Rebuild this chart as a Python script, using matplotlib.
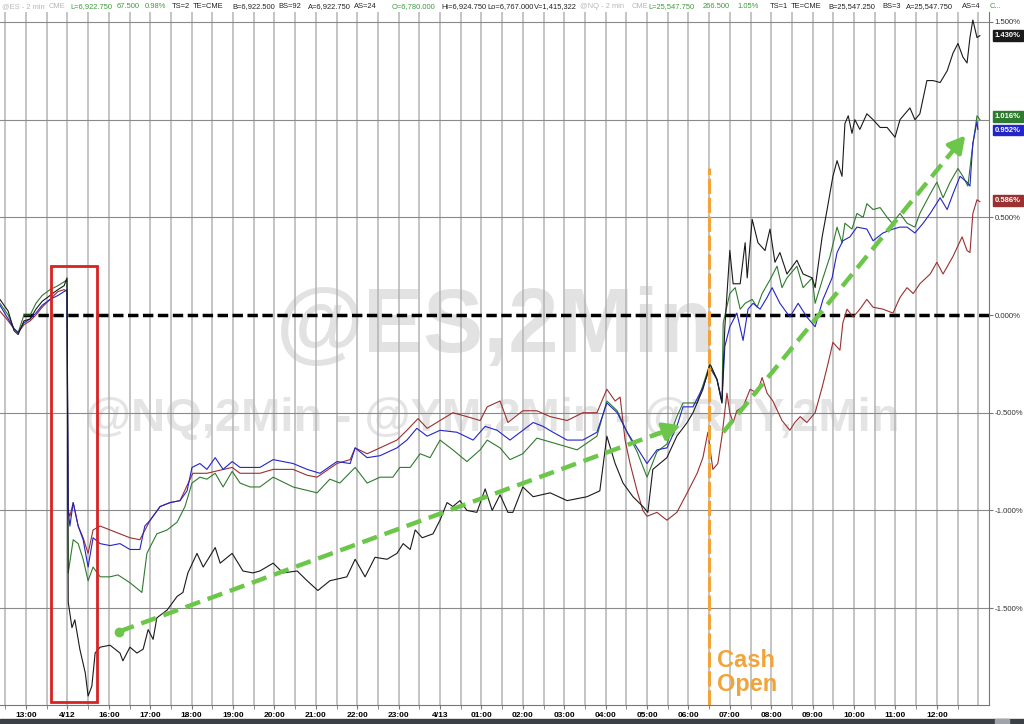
import matplotlib
matplotlib.use("Agg")
import matplotlib.pyplot as plt
from matplotlib.patches import Rectangle
import matplotlib.transforms as mtransforms

plt.rcParams['font.family'] = ['Liberation Sans', 'DejaVu Sans']

# ------------------------------------------------------------
# data (hours on session axis: 0 = 13:00 Fri, 1 = 4/12 15:00, 2 = 16:00 ...)
# values in % change
# ------------------------------------------------------------
tick_labels = ["13:00", "4/12", "16:00", "17:00", "18:00", "19:00", "20:00",
               "21:00", "22:00", "23:00", "4/13", "01:00", "02:00", "03:00",
               "04:00", "05:00", "06:00", "07:00", "08:00", "09:00", "10:00",
               "11:00", "12:00"]
ytick_vals = [-1.5, -1.0, -0.5, 0.0, 0.5, 1.5]

pre_t = [-0.63, -0.43, -0.29, -0.19, -0.05, 0.10, 0.24, 0.39, 0.58, 0.77, 0.92, 0.99]

# black line
t_black = pre_t + [
    1.02, 1.11, 1.18, 1.30, 1.43, 1.50, 1.59, 1.67, 1.79, 2.03, 2.27, 2.34, 2.51,
    2.68, 2.83, 2.95, 3.07, 3.16, 3.41, 3.65, 3.79, 3.91, 4.13, 4.28, 4.57, 4.69,
    4.98, 5.24, 5.48, 5.65, 5.97, 6.21, 6.55, 6.79, 7.05, 7.34, 7.75, 7.95, 8.19,
    8.43, 8.72, 8.96, 9.11, 9.28, 9.40, 9.57, 9.83, 10.00, 10.17, 10.31, 10.48,
    10.65, 10.89, 11.09, 11.26, 11.45, 11.64, 11.76, 12.00, 12.25, 12.66, 13.07,
    13.55, 13.86, 14.03, 14.23, 14.42, 14.66, 14.90, 15.02, 15.14, 15.31, 15.48,
    15.72, 15.97, 16.11, 16.35, 16.52, 16.69, 16.81, 16.88, 17.00, 17.08, 17.25,
    17.37, 17.42, 17.54, 17.68, 17.85, 17.97, 18.09, 18.21, 18.38, 18.62, 18.77,
    18.99, 19.06, 19.23, 19.35, 19.49, 19.59, 19.71, 19.78, 19.86, 19.95, 20.02,
    20.14, 20.31, 20.46, 20.63, 20.80, 20.99, 21.11, 21.35, 21.47, 21.59, 21.76,
    21.91, 22.08, 22.25, 22.39, 22.51, 22.63, 22.73, 22.80, 22.87, 22.97, 23.04]
v_black = [0.08, 0.02, -0.08, -0.10, -0.03, -0.02, 0.03, 0.07, 0.10, 0.13, 0.15, 0.19,
    -1.47, -1.60, -1.56, -1.71, -1.83, -1.95, -1.90, -1.73, -1.70, -1.69, -1.73, -1.77, -1.70,
    -1.73, -1.71, -1.61, -1.66, -1.55, -1.51, -1.44, -1.42, -1.32, -1.22, -1.29, -1.19, -1.27,
    -1.22, -1.31, -1.32, -1.31, -1.27, -1.32, -1.31, -1.36, -1.41, -1.36, -1.34, -1.25, -1.34,
    -1.24, -1.25, -1.22, -1.17, -1.20, -1.10, -1.14, -1.12, -1.05, -0.96, -0.98, -0.95,
    -1.00, -1.01, -0.89, -1.00, -0.92, -1.01, -1.01, -0.88, -0.93, -0.91, -0.95,
    -0.93, -0.90, -0.62, -0.76, -0.86, -0.93, -0.98, -1.01, -0.79, -0.76, -0.73,
    -0.62, -0.55, -0.50, -0.38, -0.25, -0.33, -0.45, -0.06, 0.33, 0.16, 0.16,
    0.37, 0.19, 0.49, 0.37, 0.33, 0.44, 0.27, 0.32, 0.21, 0.28, 0.21,
    0.19, 0.14, 0.40, 0.54, 0.71, 0.79, 0.71, 0.98, 1.02, 0.93, 1.00,
    0.95, 1.03, 1.00, 0.96, 0.96, 0.91, 1.00, 1.06, 1.00, 1.03, 1.20,
    1.20, 1.19, 1.25, 1.34, 1.39, 1.32, 1.29, 1.42, 1.51, 1.42, 1.43]

# blue line
t_blue = pre_t + [
    1.02, 1.06, 1.14, 1.26, 1.38, 1.50, 1.62, 1.79, 2.03, 2.27, 2.51, 2.75, 2.87,
    3.00, 3.24, 3.48, 3.72, 3.89, 4.01, 4.20, 4.37, 4.57, 4.76, 4.98, 5.17, 5.41,
    5.65, 5.97, 6.45, 6.79, 7.10, 7.51, 7.83, 7.95, 8.24, 8.55, 8.96, 9.20, 9.44,
    9.69, 10.00, 10.41, 10.80, 11.09, 11.38, 11.69, 12.00, 12.25, 12.49, 12.73,
    13.07, 13.45, 13.79, 14.03, 14.28, 14.52, 14.76, 15.00, 15.24, 15.48, 15.72,
    15.87, 16.11, 16.35, 16.52, 16.69, 16.81, 16.88, 17.00, 17.17, 17.32, 17.44,
    17.56, 17.73, 17.90, 18.02, 18.21, 18.45, 18.65, 18.86, 19.06, 19.25, 19.47,
    19.59, 19.73, 19.90, 20.07, 20.31, 20.46, 20.70, 20.94, 21.11, 21.28, 21.47,
    21.67, 21.84, 22.08, 22.25, 22.39, 22.56, 22.73, 22.80, 22.87, 22.97, 22.99]
v_blue = [0.05, -0.02, -0.07, -0.09, -0.04, -0.02, 0.01, 0.05, 0.08, 0.10, 0.12, 0.13,
    -1.00, -1.08, -0.96, -1.08, -1.15, -1.29, -1.14, -1.17, -1.18, -1.17, -1.20, -1.20, -1.08,
    -1.05, -0.98, -0.96, -0.95, -0.90, -0.78, -0.76, -0.79, -0.73, -0.79, -0.75, -0.78, -0.78,
    -0.78, -0.74, -0.76, -0.79, -0.81, -0.75, -0.76, -0.68, -0.73, -0.72, -0.68, -0.64, -0.58,
    -0.62, -0.59, -0.60, -0.64, -0.57, -0.59, -0.64, -0.59, -0.55, -0.57, -0.60,
    -0.64, -0.64, -0.60, -0.45, -0.50, -0.60, -0.68, -0.76, -0.69, -0.68, -0.57,
    -0.47, -0.47, -0.37, -0.27, -0.33, -0.44, -0.16, -0.06, 0.01, -0.13, 0.03,
    0.06, 0.03, 0.09, 0.14, 0.06, -0.01, 0.06, -0.01, -0.06, 0.08, 0.19,
    0.32, 0.38, 0.40, 0.45, 0.44, 0.38, 0.42, 0.44, 0.45, 0.45, 0.42,
    0.47, 0.52, 0.60, 0.54, 0.62, 0.71, 0.68, 0.66, 0.88, 0.99, 0.95]

# green line
t_green = pre_t + [
    1.02, 1.14, 1.26, 1.38, 1.50, 1.62, 1.79, 2.03, 2.22, 2.51, 2.80, 2.92, 3.16,
    3.41, 3.65, 3.84, 4.01, 4.20, 4.37, 4.57, 4.76, 4.98, 5.17, 5.41, 5.65, 5.97,
    6.45, 7.03, 7.34, 7.58, 7.95, 8.24, 8.55, 8.86, 9.03, 9.28, 9.52, 9.76, 10.00,
    10.31, 10.65, 10.97, 11.14, 11.45, 11.69, 12.00, 12.34, 12.83, 13.31, 13.79,
    14.03, 14.28, 14.52, 14.76, 15.00, 15.24, 15.48, 15.72, 15.87, 16.21, 16.52,
    16.69, 16.81, 16.84, 17.00, 17.13, 17.25, 17.37, 17.54, 17.66, 17.78, 17.97,
    18.14, 18.26, 18.38, 18.62, 18.77, 18.99, 19.06, 19.25, 19.42, 19.59, 19.71,
    19.78, 19.95, 20.07, 20.22, 20.31, 20.46, 20.63, 20.80, 20.92, 21.11, 21.28,
    21.47, 21.59, 21.84, 22.00, 22.15, 22.32, 22.51, 22.63, 22.75, 22.85, 22.97, 23.04]
v_green = [0.06, 0.00, -0.07, -0.09, 0.00, 0.00, 0.06, 0.10, 0.13, 0.15, 0.17, 0.18,
    -1.32, -1.15, -1.17, -1.25, -1.36, -1.29, -1.34, -1.34, -1.33, -1.37, -1.42, -1.22, -1.12,
    -1.10, -1.06, -0.98, -0.86, -0.83, -0.84, -0.81, -0.88, -0.80, -0.86, -0.88, -0.88, -0.83,
    -0.88, -0.91, -0.84, -0.86, -0.78, -0.86, -0.83, -0.83, -0.78, -0.78, -0.71, -0.73, -0.64,
    -0.69, -0.75, -0.69, -0.64, -0.68, -0.74, -0.71, -0.63, -0.66, -0.69, -0.62,
    -0.44, -0.49, -0.60, -0.70, -0.83, -0.70, -0.66, -0.52, -0.45, -0.45, -0.25,
    -0.33, -0.45, -0.04, 0.11, 0.14, 0.03, 0.06, 0.08, 0.04, 0.11, 0.18,
    0.25, 0.14, 0.19, 0.25, 0.14, 0.19, 0.06, 0.19, 0.30, 0.45, 0.37,
    0.47, 0.44, 0.52, 0.50, 0.57, 0.54, 0.55, 0.50, 0.47, 0.52, 0.47,
    0.45, 0.52, 0.62, 0.68, 0.60, 0.68, 0.75, 0.71, 0.66, 0.84, 1.02, 1.00]

# brown line
t_brown = pre_t + [
    1.02, 1.06, 1.14, 1.26, 1.38, 1.50, 1.62, 1.79, 2.03, 2.27, 2.51, 2.75, 3.00,
    3.24, 3.48, 3.72, 4.03, 4.37, 4.57, 4.98, 5.17, 5.65, 5.97, 6.45, 6.79, 7.03,
    7.51, 7.83, 7.95, 8.24, 8.55, 8.96, 9.20, 9.47, 9.69, 10.00, 10.31, 10.65,
    10.97, 11.14, 11.45, 11.64, 12.00, 12.34, 12.66, 13.07, 13.45, 13.79, 14.03,
    14.23, 14.35, 14.47, 14.59, 14.76, 14.90, 15.00, 15.24, 15.48, 15.72, 15.97,
    16.21, 16.35, 16.47, 16.59, 16.71, 16.81, 16.93, 17.00, 17.08, 17.17, 17.32,
    17.49, 17.66, 17.78, 17.90, 18.04, 18.26, 18.45, 18.57, 18.70, 18.86, 19.06,
    19.23, 19.37, 19.49, 19.66, 19.73, 19.83, 19.98, 20.14, 20.31, 20.46, 20.70,
    20.94, 21.11, 21.28, 21.43, 21.59, 21.84, 22.00, 22.15, 22.39, 22.61, 22.73,
    22.80, 22.87, 22.97, 23.04]
v_brown = [0.02, -0.03, -0.07, -0.09, -0.05, -0.03, 0.00, 0.04, 0.08, 0.12, 0.13, 0.12,
    -1.00, -1.03, -0.96, -1.08, -1.14, -1.22, -1.10, -1.08, -1.10, -1.12, -1.14, -1.15, -1.05,
    -0.98, -0.96, -0.95, -0.81, -0.81, -0.80, -0.78, -0.81, -0.81, -0.79, -0.79, -0.82, -0.83,
    -0.76, -0.74, -0.68, -0.71, -0.68, -0.64, -0.59, -0.53, -0.58, -0.54, -0.50, -0.52,
    -0.54, -0.47, -0.44, -0.55, -0.49, -0.49, -0.52, -0.54, -0.50, -0.50, -0.38,
    -0.44, -0.42, -0.64, -0.76, -0.90, -1.00, -1.03, -1.01, -1.05, -1.01, -0.91,
    -0.81, -0.73, -0.60, -0.79, -0.76, -0.62, -0.40, -0.50, -0.55, -0.49, -0.47,
    -0.38, -0.40, -0.32, -0.40, -0.44, -0.54, -0.59, -0.55, -0.52, -0.55, -0.50,
    -0.37, -0.25, -0.14, -0.18, -0.04, 0.03, -0.01, 0.03, 0.08, 0.04, 0.03,
    0.01, 0.09, 0.14, 0.11, 0.16, 0.21, 0.27, 0.21, 0.30, 0.40, 0.33,
    0.32, 0.52, 0.59, 0.58]

last_vals = [1.430, 1.016, 0.952, 0.586]   # black, green, blue, brown
cash_open_t = 16.5
box_t = (0.60, 1.71)
box_v = (-1.98, 0.25)
arrow1 = ((2.25, -1.62), (15.87, -0.56))
arrow2 = ((16.84, -0.60), (22.73, 0.93))

C_BLACK = "#1a1a1a"
C_BLUE = "#2424c8"
C_GREEN = "#2f7a2f"
C_BROWN = "#9a3030"
C_ARROW = "#6cc64a"
C_ORANGE = "#f2a43a"

fig = plt.figure(figsize=(10.24, 7.24), dpi=100)
ax = fig.add_axes([0, 19 / 724, 989 / 1024, 693 / 724])
ax.set_xlim(-0.628, 23.26)
ax.set_ylim(-1.996, 1.551)

# watermarks
ax.text(11.33, -0.07, "@ES,2Min", fontsize=65, fontweight="bold", color="#e2e2e2",
        ha="center", va="center", zorder=0)
ax.text(11.26, -0.53, "@NQ,2Min - @YM,2Min - @RTY,2Min", fontsize=34, fontweight="bold",
        color="#e4e4e4", ha="center", va="center", zorder=0)

# grid
for k in range(-1, 47):
    ax.axvline(k * 0.5, color="#b4b4b4", lw=1.1, zorder=1)
for v in [-1.5, -1.0, -0.5, 0.5, 1.0, 1.5]:
    ax.axhline(v, color="#8a8a8a", lw=0.8, zorder=1)
ax.plot([-0.07, 23.26], [0, 0], color="black", lw=2.5, dashes=(3, 1.3), zorder=2)

# series
ax.plot(t_brown, v_brown, color=C_BROWN, lw=0.8, zorder=3)
ax.plot(t_green, v_green, color=C_GREEN, lw=0.8, zorder=3)
ax.plot(t_blue, v_blue, color=C_BLUE, lw=0.8, zorder=4)
ax.plot(t_black, v_black, color=C_BLACK, lw=0.8, zorder=5)

# annotations
ax.add_patch(Rectangle((box_t[0], box_v[0]), box_t[1] - box_t[0], box_v[1] - box_v[0],
                       fill=False, edgecolor="#d82222", lw=2, zorder=6))
ax.plot([cash_open_t, cash_open_t], [-1.996, 0.75], color=C_ORANGE, lw=2.2,
        dashes=(5, 1.2), zorder=6)
ax.text(cash_open_t + 0.18, -1.83, "Cash\nOpen", color=C_ORANGE, fontsize=17,
        fontweight="bold", ha="left", va="center", linespacing=1.05, zorder=7)

for (x0, y0), (x1, y1) in [arrow1, arrow2]:
    f = 0.96
    xm, ym = x0 + (x1 - x0) * f, y0 + (y1 - y0) * f
    ax.plot([x0, xm], [y0, ym], color=C_ARROW, lw=3.2, dashes=(3.5, 1.8),
            solid_capstyle="butt", zorder=7)
    ax.annotate("", xy=(x1, y1), xytext=(xm - (x1 - x0) * 0.02, ym - (y1 - y0) * 0.02),
                arrowprops=dict(arrowstyle="-|>,head_length=1.0,head_width=0.55",
                                color=C_ARROW, lw=3), zorder=7)
ax.plot(arrow1[0][0], arrow1[0][1], "o", color=C_ARROW, ms=6, zorder=7)

# axes styling
for s in ["top", "left"]:
    ax.spines[s].set_visible(False)
ax.spines["right"].set_color("#777777")
ax.spines["bottom"].set_color("#777777")
ax.set_xticks(range(len(tick_labels)))
ax.set_xticklabels(tick_labels, fontsize=6, fontweight="bold")
ax.set_xticks([k + 0.5 for k in range(-1, 23)], minor=True)
ax.tick_params(axis="x", which="both", direction="out", length=3, color="#777777", pad=2)
ax.yaxis.tick_right()
ax.set_yticks(ytick_vals)
ax.set_yticklabels([f"{v:.3f}%" for v in ytick_vals], fontsize=5.6, color="#333333")
ax.tick_params(axis="y", direction="out", length=3, color="#777777", pad=1)

# last value boxes
trans = mtransforms.blended_transform_factory(ax.transAxes, ax.transData)
box_cols = [C_BLACK, C_GREEN, C_BLUE, C_BROWN]
box_y = [1.430, 1.016, 0.947, 0.586]
for val, yv, col in zip(last_vals, box_y, box_cols):
    ax.text(1.006, yv, f"{val:.3f}%", transform=trans, fontsize=5.5, fontweight="bold",
            color="white", ha="left", va="center", zorder=8, clip_on=False,
            bbox=dict(boxstyle="square,pad=0.22", fc=col, ec=col))

# header line
header = [
    (2, "@ES - 2 min", "#b8b8b8"), (49, "CME", "#b8b8b8"), (70, "L=6,922.750", "#3a9a3a"),
    (117, "67.500", "#3a9a3a"), (145, "0.98%", "#3a9a3a"), (172, "TS=2", "#222222"),
    (193, "TE=CME", "#222222"), (232, "B=6,922.500", "#222222"), (278, "BS=92", "#222222"),
    (308, "A=6,922.750", "#222222"), (354, "AS=24", "#222222"), (392, "O=6,780.000", "#3a9a3a"),
    (441, "Hi=6,924.750", "#222222"), (487, "Lo=6,767.000", "#222222"),
    (534, "V=1,415,322", "#222222"), (580, "@NQ - 2 min", "#b8b8b8"), (632, "CME", "#b8b8b8"),
    (648, "L=25,547.750", "#3a9a3a"), (703, "266.500", "#3a9a3a"), (737, "1.05%", "#3a9a3a"),
    (770, "TS=1", "#222222"), (791, "TE=CME", "#222222"), (828, "B=25,547.250", "#222222"),
    (882, "BS=3", "#222222"), (906, "A=25,547.750", "#222222"), (962, "AS=4", "#222222"),
    (990, "C...", "#3a9a3a"),
]
for xp, txt, col in header:
    fig.text(xp / 1024, 1 - 6.5 / 724, txt, fontsize=5.4, color=col, ha="left", va="center")

fig.patches.append(Rectangle((0, 0), 1, 5 / 724, transform=fig.transFigure,
                             color="#3b3f46", zorder=0))
fig.patches.append(Rectangle((995 / 1024, 0), 14 / 1024, 5 / 724, transform=fig.transFigure,
                             color="#a0a4aa", zorder=1))

fig.savefig("out.png", dpi=100, facecolor="white")
